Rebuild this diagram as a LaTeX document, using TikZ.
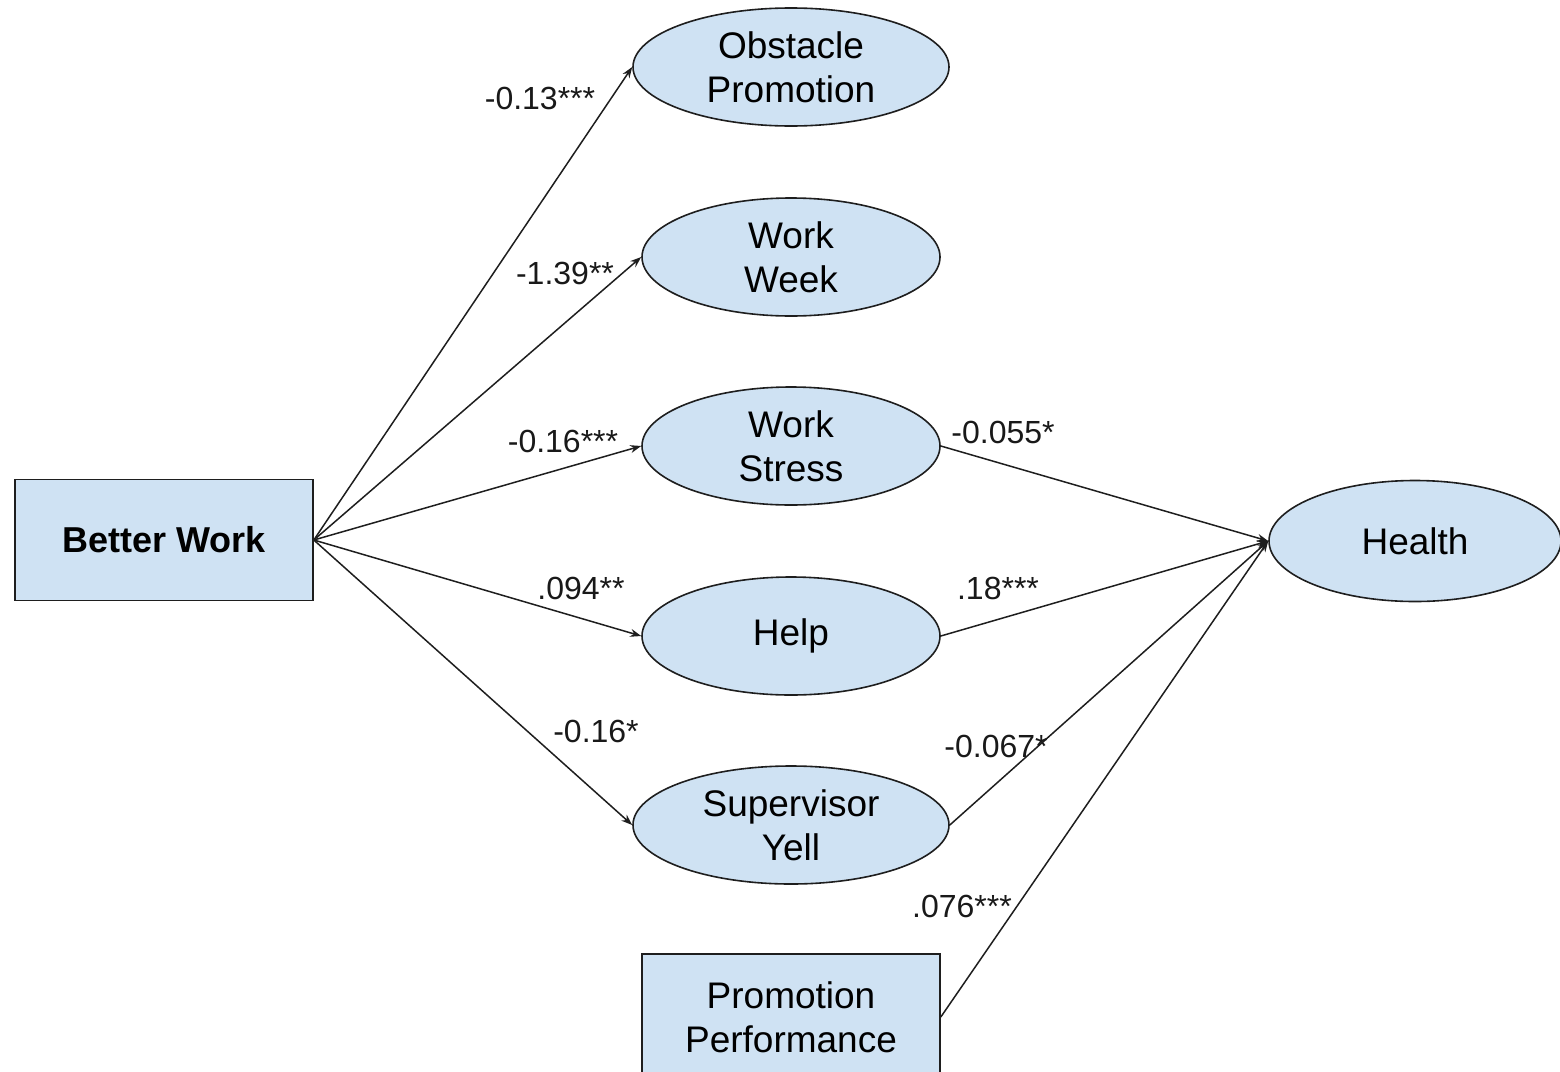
\documentclass[tikz,border=0pt]{standalone}
\usepackage{fontspec}
\setmainfont{Liberation Sans}
\usetikzlibrary{shapes.geometric,arrows.meta}
\definecolor{nodefill}{RGB}{207,226,243}
\definecolor{edgecol}{RGB}{30,30,30}
\tikzset{
  ovalnode/.style={ellipse,draw=edgecol,line width=1.6pt,fill=nodefill,inner sep=0pt,
    minimum width=298pt,minimum height=118pt,align=center,font=\fontsize{37}{44}\selectfont},
  rectnode/.style={rectangle,draw=edgecol,line width=1.6pt,fill=nodefill,inner sep=0pt,
    minimum width=298pt,minimum height=121pt,align=center,font=\fontsize{37}{44}\selectfont},
  conn/.style={draw=edgecol,line width=1.5pt,-{Stealth[length=11pt,width=8pt]}},
  coef/.style={inner sep=0pt,font=\fontsize{32}{36}\selectfont,text=black!90}
}
\begin{document}
\begin{tikzpicture}[x=1pt,y=-1pt]
\useasboundingbox (0,0) rectangle (1560,1071);
% nodes
\node[rectnode] (bw) at (164,540) {\fontsize{36}{44}\selectfont\textbf{Better Work}};
\node[ovalnode,minimum width=316pt] (op) at (791,67) {Obstacle\\Promotion};
\node[ovalnode] (ww) at (791,257) {Work\\Week};
\node[ovalnode] (ws) at (791,446) {Work\\Stress};
\node[ovalnode] (he) at (791,636) {Help};
\node[ovalnode,minimum width=316pt] (sy) at (791,825) {Supervisor\\Yell};
\node[rectnode,minimum height=126pt] (pp) at (791,1017) {Promotion\\Performance};
\node[ovalnode,minimum width=292pt,minimum height=121pt] (hl) at (1415,541) {Health};
% connectors
\draw[conn] (bw.east) -- (op.west);
\draw[conn] (bw.east) -- (ww.west);
\draw[conn] (bw.east) -- (ws.west);
\draw[conn] (bw.east) -- (he.west);
\draw[conn] (bw.east) -- (sy.west);
\draw[conn] (ws.east) -- (hl.west);
\draw[conn] (he.east) -- (hl.west);
\draw[conn] (sy.east) -- (hl.west);
\draw[conn] (pp.east) -- (hl.west);
% coefficients
\node[coef] (c1) at (540,98) {-0.13***};
\node[coef] (c2) at (565,273) {-1.39**};
\node[coef] (c3) at (563,441) {-0.16***};
\node[coef] (c4) at (581,588) {.094**};
\node[coef] (c5) at (596,731) {-0.16*};
\node[coef] (c6) at (1003,432) {-0.055*};
\node[coef] (c7) at (998,588) {.18***};
\node[coef] (c8) at (996,746) {-0.067*};
\node[coef] (c9) at (962,906) {.076***};
\end{tikzpicture}
\end{document}
